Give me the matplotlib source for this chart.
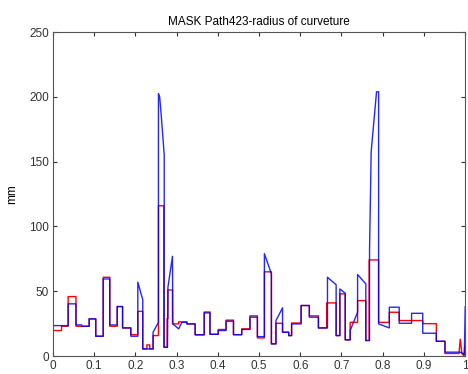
import matplotlib
matplotlib.use('Agg')
import matplotlib.pyplot as plt

plt.rcParams['font.family'] = ['Liberation Sans', 'DejaVu Sans']

# blue curve vertices (x = normalised path position, y = radius in mm)
blue_x = [0, 0.037, 0.037, 0.056, 0.056, 0.07, 0.07, 0.088, 0.088, 0.104, 0.104, 0.122, 0.122, 0.138,
          0.138, 0.156, 0.156, 0.169, 0.169, 0.189, 0.189, 0.206, 0.206, 0.218, 0.218, 0.243, 0.243,
          0.256, 0.256, 0.259, 0.263, 0.267, 0.270, 0.270, 0.278, 0.279, 0.290, 0.291, 0.305, 0.313,
          0.325, 0.325, 0.345, 0.345, 0.367, 0.367, 0.381, 0.381, 0.401, 0.401, 0.42, 0.42, 0.438,
          0.438, 0.458, 0.458, 0.478, 0.478, 0.496, 0.496, 0.513, 0.513, 0.53, 0.53, 0.541, 0.541,
          0.557, 0.557, 0.572, 0.572, 0.579, 0.579, 0.602, 0.602, 0.622, 0.622, 0.644, 0.644, 0.666,
          0.666, 0.687, 0.687, 0.696, 0.696, 0.709, 0.709, 0.721, 0.721, 0.739, 0.739, 0.759, 0.759,
          0.768, 0.768, 0.772, 0.785, 0.79, 0.79, 0.816, 0.816, 0.84, 0.84, 0.87, 0.87, 0.897, 0.897,
          0.93, 0.93, 0.951, 0.951, 0.988, 0.995, 0.998, 1.0]
blue_y = [23.5, 23.5, 40.3, 40.3, 24, 24, 23, 23, 28.7, 28.7, 15.3, 15.3, 59.5, 59.5,
          24, 24, 38.2, 38.2, 21.7, 21.7, 15.3, 15.3, 57, 43.4, 5.5, 5.5, 18.4,
          26, 202.5, 200, 185, 168, 155, 6.8, 6.8, 53, 77, 24.8, 21, 26,
          26, 24.8, 24.8, 16.4, 16.4, 33.3, 33.3, 16.8, 16.8, 19.7, 19.7, 26.9, 26.9,
          16.5, 16.5, 20.5, 20.5, 30, 30, 15, 15, 79, 63.4, 9.4, 9.4, 27.4,
          37.2, 18.4, 18.4, 15.8, 15.8, 24.8, 24.8, 39, 39, 30, 30, 21.7, 21.7,
          60.8, 55, 15.8, 15.8, 51.8, 48.5, 12.5, 12.5, 19.7, 33.8, 62.9, 55.7, 12,
          12, 82, 158, 204, 204, 24.8, 21.7, 37.7, 37.7, 25.3, 25.3, 33, 33, 17.6,
          17.6, 11.4, 11.4, 3, 3, 2, 1, 38]

# red curve vertices
red_x = [0, 0.021, 0.021, 0.037, 0.037, 0.056, 0.056, 0.088, 0.088, 0.104, 0.104, 0.122, 0.122, 0.138,
         0.138, 0.156, 0.156, 0.169, 0.169, 0.189, 0.189, 0.206, 0.206, 0.218, 0.218, 0.228, 0.228,
         0.235, 0.235, 0.243, 0.243, 0.256, 0.256, 0.269, 0.269, 0.277, 0.277, 0.279, 0.279, 0.290,
         0.290, 0.305, 0.305, 0.325, 0.325, 0.345, 0.345, 0.367, 0.367, 0.381, 0.381, 0.401, 0.401,
         0.42, 0.42, 0.438, 0.438, 0.458, 0.458, 0.478, 0.478, 0.496, 0.496, 0.513, 0.513, 0.53, 0.53,
         0.541, 0.541, 0.557, 0.557, 0.572, 0.572, 0.579, 0.579, 0.602, 0.602, 0.622, 0.622, 0.644,
         0.644, 0.664, 0.664, 0.687, 0.687, 0.696, 0.696, 0.709, 0.709, 0.721, 0.721, 0.739, 0.739,
         0.759, 0.759, 0.767, 0.767, 0.79, 0.79, 0.816, 0.816, 0.84, 0.84, 0.897, 0.897, 0.93, 0.93,
         0.951, 0.951, 0.985, 0.988, 0.992, 0.997, 0.999, 1.0]
red_y = [19.7, 19.7, 23, 23, 45.9, 45.9, 23, 23, 28.7, 28.7, 15.3, 15.3, 60.8, 60.8,
         23, 23, 38.2, 38.2, 21.7, 21.7, 16.5, 16.5, 34.5, 34.5, 5.5, 5.5, 8.6,
         8.6, 5.5, 5.5, 15.8, 15.8, 116, 116, 6.8, 6.8, 29, 29, 51, 51,
         24.8, 24.8, 26.4, 26.4, 24.8, 24.8, 16.4, 16.4, 34, 34, 16.8, 16.8, 20.5,
         20.5, 27.7, 27.7, 16.5, 16.5, 21, 21, 31, 31, 14, 14, 65, 65, 9.4,
         9.4, 25.3, 25.3, 18.4, 18.4, 15.8, 15.8, 25.5, 25.5, 39, 39, 31, 31,
         21.7, 21.7, 41, 41, 15.8, 15.8, 48, 48, 12.5, 12.5, 26, 26, 42.8,
         42.8, 12, 12, 74.2, 74.2, 26, 26, 33.8, 33.8, 27.4, 27.4, 25, 25, 11.4,
         11.4, 2, 2, 13, 2, 0, 8, 5]

xticks = [0, 0.1, 0.2, 0.3, 0.4, 0.5, 0.6, 0.7, 0.8, 0.9, 1]
xticklabels = ['0', '0.1', '0.2', '0.3', '0.4', '0.5', '0.6', '0.7', '0.8', '0.9', '1']
yticks = [0, 50, 100, 150, 200, 250]

fig = plt.figure(figsize=(4.68, 3.74), dpi=100)
ax = fig.add_axes([0.113, 0.048, 0.881, 0.866])

ax.plot(red_x, red_y, color='#ff0000', lw=1.0)
ax.plot(blue_x, blue_y, color='#0000ff', lw=1.0, alpha=0.85)

ax.set_xlim(0, 1)
ax.set_ylim(0, 250)
ax.set_xticks(xticks)
ax.set_xticklabels(xticklabels)
ax.set_yticks(yticks)
ax.tick_params(direction='in', length=3, top=True, right=True, labelsize=8.5,
               colors='#333333', pad=3)
for s in ax.spines.values():
    s.set_color('#555555')
    s.set_linewidth(0.8)

ax.set_title('MASK Path423-radius of curveture', fontsize=8.5, pad=5)
ax.set_ylabel('mm', fontsize=8.5, labelpad=8)

fig.savefig('out.png', dpi=100)
